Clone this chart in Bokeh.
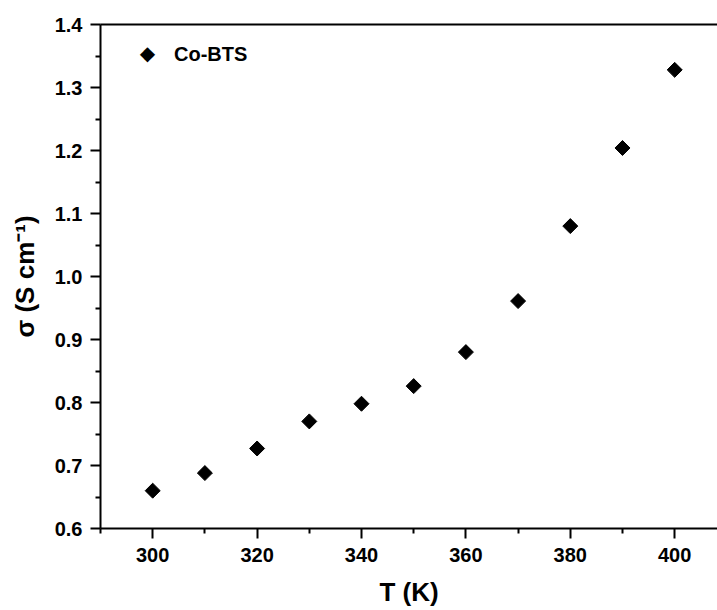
from bokeh.plotting import figure
from bokeh.models import (Range1d, FixedTicker, LinearAxis, Legend, LegendItem,
                          NumeralTickFormatter, Label)
from bokeh.embed import file_html
from bokeh.resources import INLINE
import math

# data
temperature = [300, 310, 320, 330, 340, 350, 360, 370, 380, 390, 400]
sigma = [0.660, 0.688, 0.727, 0.770, 0.798, 0.826, 0.880, 0.961, 1.080, 1.204, 1.328]
series_name = "Co-BTS"
x_title = "T (K)"
y_title = "σ (S cm⁻¹)"
x_ticks = [300, 320, 340, 360, 380, 400]
x_minor_ticks = [290, 310, 330, 350, 370, 390, 410]
y_ticks = [0.6, 0.7, 0.8, 0.9, 1.0, 1.1, 1.2, 1.3, 1.4]
y_minor_ticks = [0.65, 0.75, 0.85, 0.95, 1.05, 1.15, 1.25, 1.35]

FONT = "Liberation Sans"

p = figure(width=717, height=610, output_backend="svg", toolbar_location=None,
           x_range=Range1d(290, 408.2), y_range=Range1d(0.6, 1.4),
           min_border_left=100, min_border_right=0, min_border_top=24,
           min_border_bottom=82, x_axis_type=None, y_axis_type=None)
p.outline_line_color = None
p.xgrid.visible = False
p.ygrid.visible = False
p.background_fill_color = "white"
p.border_fill_color = "white"

def style(ax):
    ax.axis_line_color = "black"
    ax.axis_line_width = 2
    ax.major_tick_line_color = "black"
    ax.major_tick_line_width = 2
    ax.minor_tick_line_color = "black"
    ax.minor_tick_line_width = 2
    ax.major_tick_in = 0
    ax.major_tick_out = 10
    ax.minor_tick_in = 0
    ax.minor_tick_out = 5
    ax.major_label_text_font = FONT
    ax.major_label_text_font_style = "bold"
    ax.major_label_text_font_size = "20px"
    ax.major_label_text_color = "black"
    ax.axis_label_text_font = FONT
    ax.axis_label_text_font_style = "bold"
    ax.axis_label_text_font_size = "26px"
    ax.axis_label_text_color = "black"

xaxis = LinearAxis(ticker=FixedTicker(ticks=x_ticks, minor_ticks=x_minor_ticks),
                   formatter=NumeralTickFormatter(format="0"), axis_label=x_title)
style(xaxis)
xaxis.major_label_standoff = 9
xaxis.axis_label_standoff = 12
p.add_layout(xaxis, "below")

yaxis = LinearAxis(ticker=FixedTicker(ticks=y_ticks, minor_ticks=y_minor_ticks),
                   formatter=NumeralTickFormatter(format="0.0"), axis_label=y_title)
style(yaxis)
yaxis.major_label_standoff = 8
yaxis.axis_label_standoff = 12
p.add_layout(yaxis, "left")

top = LinearAxis(ticker=FixedTicker(ticks=[]))
top.axis_line_color = "black"
top.axis_line_width = 2
top.major_tick_line_color = None
top.minor_tick_line_color = None
top.major_label_text_font_size = "0px"
top.major_label_text_color = None
p.add_layout(top, "above")

r = p.scatter(temperature, sigma, marker="square", angle=math.pi / 4, size=10.6,
              fill_color="black", line_color="black")

# empty renderer: legend entry text only, key drawn as a diamond character
key_renderer = p.scatter(x=[], y=[], marker="square", fill_color="black", line_color="black")

legend = Legend(items=[LegendItem(label=series_name, renderers=[key_renderer])],
                location=(32, 459), padding=0, margin=0, border_line_color=None,
                background_fill_alpha=0, glyph_width=30, glyph_height=30,
                label_height=20, label_standoff=12,
                label_text_font=FONT, label_text_font_style="bold",
                label_text_font_size="20px", label_text_color="black")
p.add_layout(legend, "center")

key = Label(x=47, y=476, x_units="screen", y_units="screen", text="◆",
            text_align="center", text_baseline="middle",
            text_font="DejaVu Sans", text_font_size="20px", text_color="black")
p.add_layout(key)

open("out.html", "w").write(file_html(p, INLINE))
